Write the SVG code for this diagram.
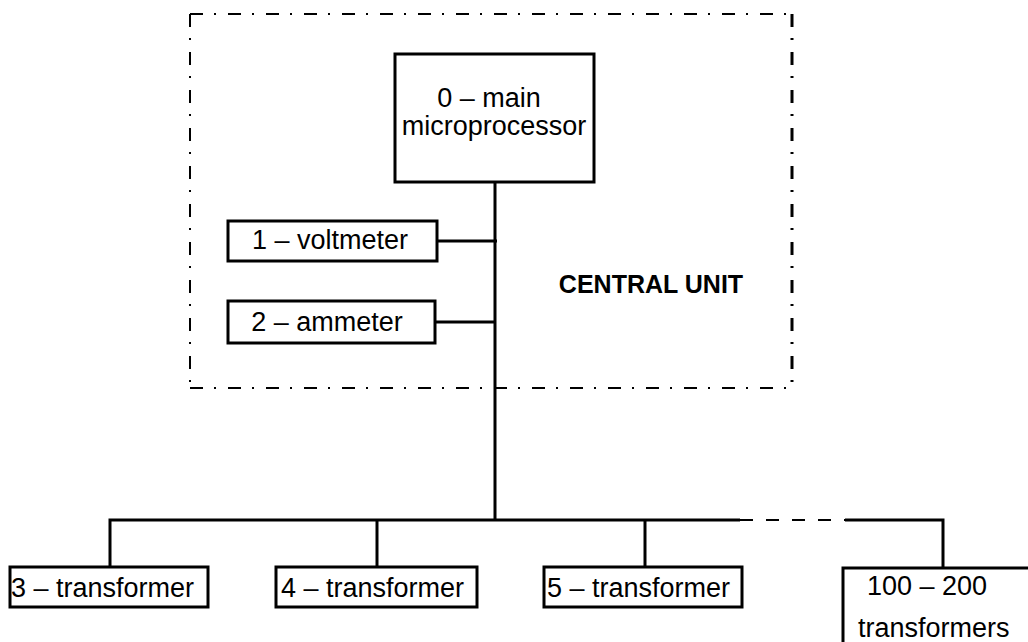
<svg xmlns="http://www.w3.org/2000/svg" width="1028" height="642" viewBox="0 0 1028 642">
<style>
.box{fill:#fff;stroke:#000;stroke-width:3}
.ln{stroke:#000;stroke-width:3;fill:none}
.bd{stroke:#000;stroke-width:2;fill:none;stroke-dasharray:13 11 2 12}
.t{font-family:"Liberation Sans",Arial,sans-serif;font-size:27px;fill:#000}
.b{font-family:"Liberation Sans",Arial,sans-serif;font-size:25px;font-weight:bold;fill:#000}
</style>
<rect width="1028" height="642" fill="#fff"/>
<g id="central-unit">
<line class="bd" x1="190" y1="14" x2="792" y2="14"/>
<line class="bd" x1="190" y1="14" x2="190" y2="388"/>
<line class="bd" x1="190" y1="388" x2="792" y2="388"/>
<line class="bd" x1="792" y1="14" x2="792" y2="388" style="stroke-width:3"/>
<text class="b" x="651" y="293" text-anchor="middle">CENTRAL UNIT</text>
</g>
<g id="connectors">
<line class="ln" x1="495" y1="182" x2="495" y2="520"/>
<line class="ln" x1="437" y1="241" x2="497" y2="241"/>
<line class="ln" x1="435" y1="322" x2="495" y2="322"/>
<polyline class="ln" points="110,567 110,520 740,520"/>
<line class="ln" x1="377" y1="520" x2="377" y2="567"/>
<line class="ln" x1="645" y1="520" x2="645" y2="567"/>
<line x1="740" y1="520" x2="845" y2="520" stroke="#000" stroke-width="2" stroke-dasharray="13 13"/>
<polyline class="ln" points="845,520 943,520 943,568"/>
</g>
<g id="n0">
<rect class="box" x="395" y="54" width="199" height="128"/>
<text class="t" x="489" y="107" text-anchor="middle">0 – main</text>
<text class="t" x="494" y="135" text-anchor="middle">microprocessor</text>
</g>
<g id="n1">
<rect class="box" x="228" y="221" width="209" height="40"/>
<text class="t" x="330" y="249" text-anchor="middle">1 – voltmeter</text>
</g>
<g id="n2">
<rect class="box" x="228" y="301" width="207" height="42"/>
<text class="t" x="327" y="331" text-anchor="middle">2 – ammeter</text>
</g>
<g id="n3">
<rect class="box" x="10" y="567" width="198" height="40"/>
<text class="t" x="11" y="597">3 – transformer</text>
</g>
<g id="n4">
<rect class="box" x="276" y="567" width="201" height="40"/>
<text class="t" x="281" y="597">4 – transformer</text>
</g>
<g id="n5">
<rect class="box" x="544" y="567" width="198" height="40"/>
<text class="t" x="547" y="597">5 – transformer</text>
</g>
<g id="n100">
<rect class="box" x="843" y="568" width="200" height="90"/>
<text class="t" x="867" y="595">100 – 200</text>
<text class="t" x="858" y="637">transformers</text>
</g>
</svg>
